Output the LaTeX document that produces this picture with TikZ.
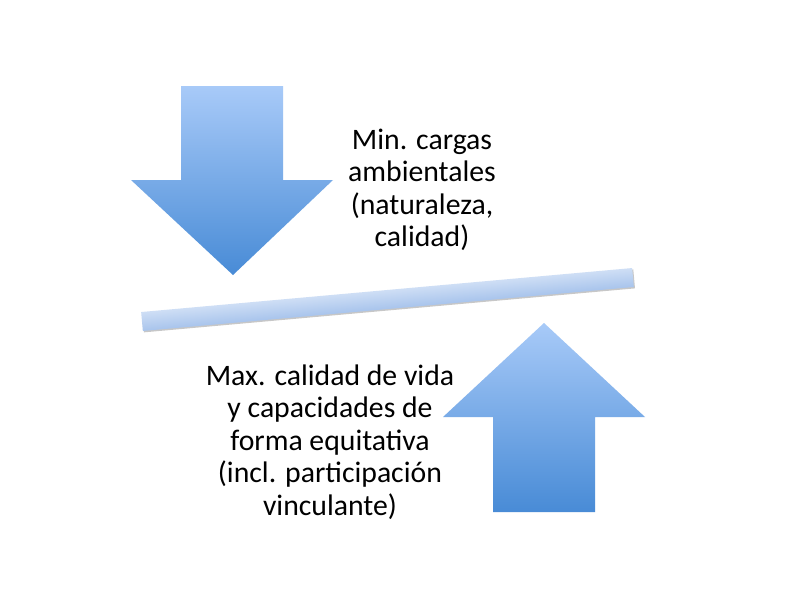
\documentclass[tikz,border=0pt]{standalone}
\usepackage{fontspec}
\setmainfont{Carlito}
\usetikzlibrary{shadows}
\definecolor{arrowtop}{RGB}{168,202,248}
\definecolor{arrowbot}{RGB}{72,139,214}
\definecolor{bartop}{RGB}{206,222,245}
\definecolor{barbot}{RGB}{168,196,236}
\tikzset{
  bigarrow/.style={top color=arrowtop, bottom color=arrowbot, draw=none},
  label/.style={align=center, font=\fontsize{22.3}{24.4}\selectfont, text=black, inner sep=0pt},
}
\begin{document}
\begin{tikzpicture}[x=0.75pt, y=-0.75pt]
\useasboundingbox[fill=white] (0,0) rectangle (800,600);
% down arrow
\shade[bigarrow] (181,86) -- (283,86) -- (283,180) -- (333,180) -- (233,275) -- (131,180) -- (181,180) -- cycle;
% up arrow
\shade[bigarrow] (544,323) -- (645,417) -- (595,417) -- (595,512) -- (493,512) -- (493,417) -- (443,417) -- cycle;
% tilted bar
\begin{scope}[transform canvas={shift={(387.5,299.5)}, rotate=5.12}]
\fill[black, opacity=0.22] (-246.5+1,-9.5+1.5) rectangle (246.5+1,9.5+1.5);
\node[draw=none, rectangle, inner sep=0pt, minimum width=493*0.75pt, minimum height=19*0.75pt,
  top color=bartop, bottom color=barbot] (bar) at (0,0) {};
\end{scope}
\node[label] (top) at (422,190) {Min. cargas\\ambientales\\(naturaleza,\\calidad)};
\node[label] (bottom) at (330,442) {Max. calidad de vida\\y capacidades de\\forma equitativa\\(incl. participación\\vinculante)};
\end{tikzpicture}
\end{document}
